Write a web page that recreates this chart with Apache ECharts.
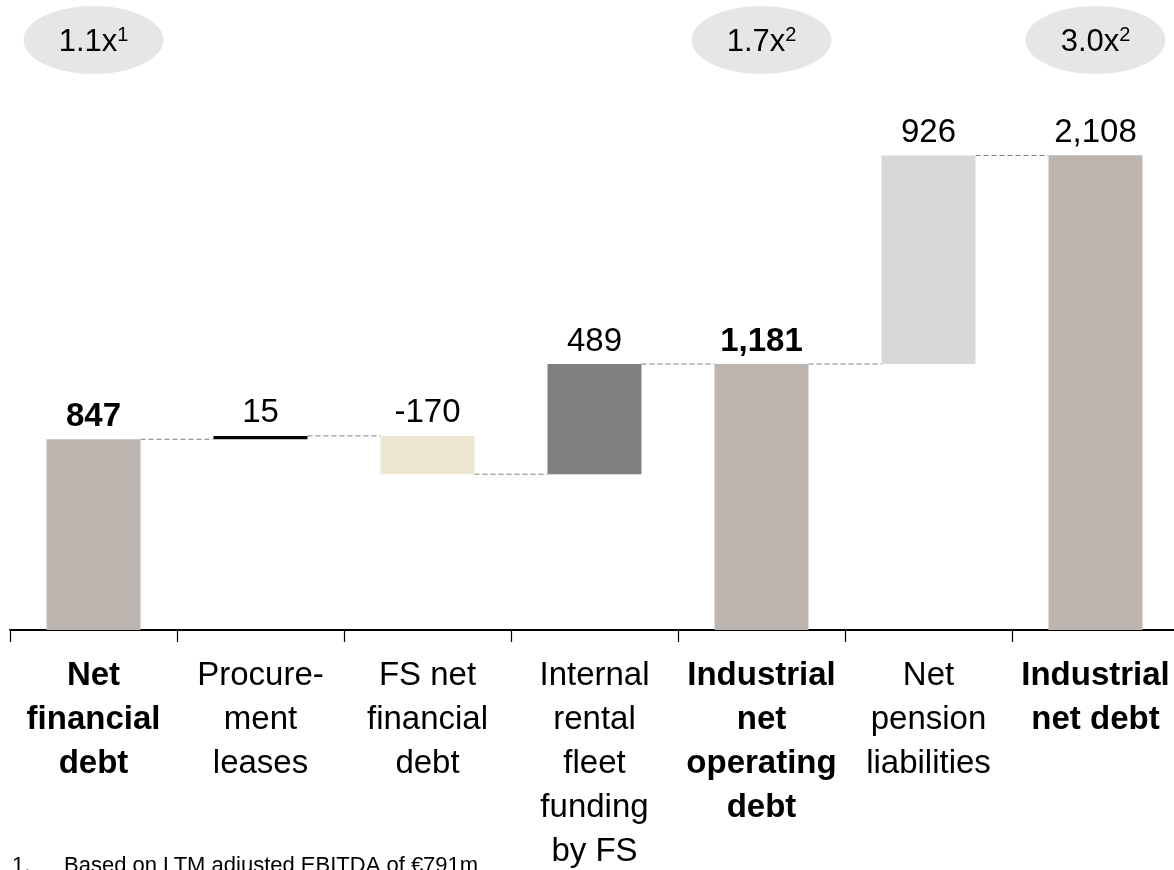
<!DOCTYPE html>
<html>
<head>
<meta charset="utf-8">
<script src="https://cdn.jsdelivr.net/npm/echarts@6/dist/echarts.min.js"></script>
<style>
  html, body { margin: 0; padding: 0; background: #fff; }
  #debt_charts { width: 1174px; height: 870px; }
</style>
</head>
<body>
<div id="debt_charts"></div>
<script>
// chart data
const categories = [
  'Net\nfinancial\ndebt',
  'Procure-\nment\nleases',
  'FS net\nfinancial\ndebt',
  'Internal\nrental\nfleet\nfunding\nby FS',
  'Industrial\nnet\noperating\ndebt',
  'Net\npension\nliabilities',
  'Industrial\nnet debt'
];
const values = [847, 15, -170, 489, 1181, 926, 2108];
const isTotal = [true, false, false, false, true, false, true];
const boldCategory = [true, false, false, false, true, false, true];
const boldValue = [true, false, false, false, true, false, false];
const barColors = ['#BDB5AF', '#000000', '#EDE7D1', '#808080', '#BDB5AF', '#D7D8DA', '#BDB5AF'];

// leverage bubbles above the chart
const multipleIndex = [0, 4, 6];
const multipleText = ['1.1x', '1.7x', '3.0x'];
const multipleNote = ['1', '2', '2'];

const footnoteNo = '1.';
const footnoteText = 'Based on LTM adjusted EBITDA of €791m';

const FONT = 'Arial, "Liberation Sans", sans-serif';
const BAR_WIDTH = 94;

// waterfall: invisible base + visible part, and the level after each step
let bases = [];
let heights = [];
let levels = [];
let running = 0;
values.forEach((v, i) => {
  if (isTotal[i]) {
    bases.push(0);
    heights.push(v);
    running = v;
  } else if (v >= 0) {
    bases.push(running);
    heights.push(v);
    running += v;
  } else {
    bases.push(running + v);
    heights.push(-v);
    running += v;
  }
  levels.push(running);
});

const connectorData = levels.slice(0, -1).map((lv, i) => [i, lv]);

var debt_charts = echarts.init(document.getElementById('debt_charts'));

var option = {
  animation: false,
  grid: {
    left: 10,
    width: 1169,
    top: 67,
    bottom: 240,
    containLabel: false,
    outerBoundsMode: 'none'
  },
  xAxis: {
    type: 'category',
    data: categories,
    axisLine: { lineStyle: { color: '#000', width: 2 } },
    axisTick: { show: true, length: 12, lineStyle: { color: '#000', width: 1.2 } },
    axisLabel: {
      interval: 0,
      margin: 24,
      color: '#000',
      formatter: (value, index) => {
        const tag = boldCategory[index] ? 'b' : 'n';
        return value.split('\n').map(line => '{' + tag + '|' + line + '}').join('\n');
      },
      rich: {
        b: { fontFamily: FONT, fontSize: 33, fontWeight: 'bold', lineHeight: 44, color: '#000' },
        n: { fontFamily: FONT, fontSize: 33, lineHeight: 44, color: '#000' }
      }
    }
  },
  yAxis: {
    type: 'value',
    min: 0,
    max: 2500,
    show: false,
    splitLine: { show: false }
  },
  series: [
    {
      name: 'base',
      type: 'bar',
      stack: 'wf',
      barWidth: BAR_WIDTH,
      silent: true,
      itemStyle: { color: 'transparent' },
      data: bases
    },
    {
      name: 'value',
      type: 'bar',
      stack: 'wf',
      barWidth: BAR_WIDTH,
      data: heights.map((h, i) => ({ value: h, itemStyle: { color: barColors[i] } })),
      label: {
        show: true,
        position: 'top',
        distance: 6,
        formatter: (params) => {
          const idx = params.dataIndex;
          const txt = values[idx].toLocaleString('en-US');
          return boldValue[idx] ? '{b|' + txt + '}' : '{n|' + txt + '}';
        },
        rich: {
          b: { fontFamily: FONT, fontSize: 33, fontWeight: 'bold', color: '#000' },
          n: { fontFamily: FONT, fontSize: 33, color: '#000' }
        }
      }
    },
    {
      name: 'connector',
      type: 'custom',
      silent: true,
      encode: { x: 0, y: 1 },
      data: connectorData,
      renderItem: (params, api) => {
        const i = api.value(0);
        const lv = api.value(1);
        const start = api.coord([i, lv]);
        const end = api.coord([i + 1, lv]);
        const half = BAR_WIDTH / 2;
        return {
          type: 'line',
          shape: { x1: start[0] + half, y1: start[1], x2: end[0] - half, y2: end[1] },
          style: { stroke: '#808080', lineWidth: 1, lineDash: [5, 3] }
        };
      }
    }
  ]
};

debt_charts.setOption(option);

// bubbles + footnote, x taken from the category axis
var graphics = [];
multipleIndex.forEach((idx, k) => {
  const cx = debt_charts.convertToPixel({ xAxisIndex: 0 }, idx);
  graphics.push({
    type: 'ellipse',
    silent: true,
    shape: { cx: cx, cy: 40, rx: 70, ry: 34 },
    style: { fill: '#E6E6E6' }
  });
  graphics.push({
    type: 'text',
    silent: true,
    x: cx,
    y: 42,
    style: {
      text: '{a|' + multipleText[k] + '}{s|' + multipleNote[k] + '}',
      align: 'center',
      verticalAlign: 'middle',
      rich: {
        a: { fontFamily: FONT, fontSize: 31, lineHeight: 34, fill: '#000' },
        s: { fontFamily: FONT, fontSize: 20, lineHeight: 20, verticalAlign: 'top', fill: '#000' }
      }
    }
  });
});
graphics.push({
  type: 'text',
  silent: true,
  x: 12,
  y: 855,
  style: { text: footnoteNo, font: '22px ' + FONT, fill: '#000', verticalAlign: 'top', lineHeight: 22 }
});
graphics.push({
  type: 'text',
  silent: true,
  x: 64,
  y: 855,
  style: { text: footnoteText, font: '22px ' + FONT, fill: '#000', verticalAlign: 'top', lineHeight: 22 }
});
debt_charts.setOption({ graphic: graphics });

window.addEventListener('resize', () => {
  debt_charts.resize();
});
</script>
</body>
</html>
